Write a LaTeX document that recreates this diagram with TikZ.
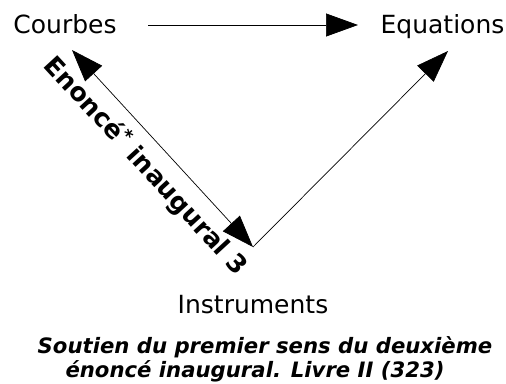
\documentclass[tikz,border=0pt]{standalone}
\usepackage{fontspec}
\setmainfont{DejaVu Sans}
\usetikzlibrary{arrows.meta}
\begin{document}
\begin{tikzpicture}[x=1pt,y=-1pt,
  lbl/.style={font=\fontsize{25}{30}\selectfont, inner sep=0pt},
  capt/.style={font=\fontsize{21.2}{25}\selectfont\bfseries\itshape, inner sep=0pt},
  edgelbl/.style={font=\fontsize{25.5}{28}\selectfont\bfseries, inner sep=0pt},
  conn/.style={line width=0.7pt, -{Triangle[length=32pt,width=23pt]}},
  dconn/.style={line width=0.7pt, {Triangle[length=32pt,width=23pt]}-{Triangle[length=32pt,width=23pt]}}]
\useasboundingbox (0,0) rectangle (506,383);
\node[lbl, anchor=base] (courbes) at (65,33) {Courbes};
\node[lbl, anchor=base] (equations) at (442.5,33) {Equations};
\node[lbl, anchor=base] (instr) at (253,313) {Instruments};
\coordinate (hs) at (148,25);
\coordinate (he) at (358,25);
\coordinate (ctip) at (72,50);
\coordinate (apex) at (253,247);
\coordinate (etip) at (448,51);
\draw[conn] (hs) -- (he);
\draw[dconn] (ctip) -- (apex);
\draw[conn] (apex) -- (etip);
\node[edgelbl, rotate=-47.4] (enonce) at (146,166) {Enoncé\textsuperscript{*} inaugural 3};
\node[capt, anchor=base] (cap1) at (265,353) {Soutien du premier sens du deuxième};
\node[capt, anchor=base] (cap2) at (255,377) {énoncé inaugural. Livre II (323)};
\end{tikzpicture}
\end{document}
